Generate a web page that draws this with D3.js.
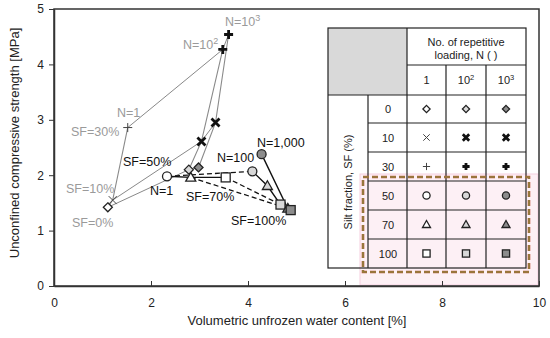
<!DOCTYPE html>
<html>
<head>
<meta charset="utf-8">
<script src="https://cdn.jsdelivr.net/npm/d3@7"></script>
<style>
  body { margin: 0; background: #fff; }
  text { font-family: "Liberation Sans", Arial, sans-serif; }
</style>
</head>
<body>
<script>
// silt fraction levels and loading counts
var sfLevels = [0, 10, 30, 50, 70, 100];
var nLevels = ["1", "10^2", "10^3"];

// volumetric unfrozen water content [%] and UCS [MPa], one entry per SF level
var wcN1    = [1.11, 1.21, 1.52, 2.33, 2.82, 3.54];
var ucsN1   = [1.42, 1.55, 2.86, 1.98, 1.96, 1.96];
var wcN100  = [2.78, 3.04, 3.48, 4.09, 4.40, 4.67];
var ucsN100 = [2.10, 2.61, 4.27, 2.07, 1.81, 1.47];
var wcN1000 = [2.98, 3.33, 3.60, 4.28, 4.82, 4.88];
var ucsN1000= [2.14, 2.95, 4.54, 2.38, 1.40, 1.37];

var xTicks = [0, 2, 4, 6, 8, 10];
var yTicks = [0, 1, 2, 3, 4, 5];

var W = 550, H = 338;
var svg = d3.select("body").append("svg").attr("width", W).attr("height", H);

var x = d3.scaleLinear().domain([0, 10]).range([54, 539]);
var y = d3.scaleLinear().domain([0, 5]).range([286, 9]);

var wc = [wcN1, wcN100, wcN1000];
var ucs = [ucsN1, ucsN100, ucsN1000];
function pt(n, s) { return [x(wc[n][s]), y(ucs[n][s])]; }

var line = d3.line();

// ---- pink highlight behind the table rows
svg.append("rect").attr("x", 360).attr("y", 174).attr("width", 178).attr("height", 111)
  .style("fill", "#fdf0f5").style("stroke", "#f6cfe0").style("stroke-width", 1);

// ---- frame
svg.append("rect").attr("x", 54).attr("y", 9).attr("width", 485).attr("height", 277)
  .style("fill", "none").style("stroke", "#333").style("stroke-width", 1.5);

// axes
var xAxis = svg.append("g").attr("transform", "translate(0,286)")
  .call(d3.axisBottom(x).tickValues(xTicks).tickFormat(d3.format("d")).tickSizeInner(-5).tickSizeOuter(0).tickPadding(10));
var yAxis = svg.append("g").attr("transform", "translate(54,0)")
  .call(d3.axisLeft(y).tickValues(yTicks).tickFormat(d3.format("d")).tickSizeInner(5).tickSizeOuter(0).tickPadding(5));
[xAxis, yAxis].forEach(function(a) {
  a.select(".domain").style("stroke", "#333").style("stroke-width", 1.5);
  a.selectAll(".tick line").style("stroke", "#333");
  a.selectAll("text").style("font-size", "12px").style("fill", "#222")
    .style("font-family", "Liberation Sans, Arial, sans-serif");
});
xAxis.selectAll(".tick text").attr("dy", "0.9em");

svg.append("text").attr("x", 297).attr("y", 325).attr("text-anchor", "middle")
  .style("font-size", "13px").style("fill", "#222").text("Volumetric unfrozen water content [%]");
svg.append("text").attr("transform", "translate(19,143) rotate(-90)").attr("text-anchor", "middle")
  .style("font-size", "13px").style("fill", "#222").text("Unconfined compressive strength [MPa]");

// ---- lines
// gray: constant N for SF 0,10,30
[0, 1, 2].forEach(function(n) {
  svg.append("path").attr("d", line([0, 1, 2].map(function(s) { return pt(n, s); })))
    .style("fill", "none").style("stroke", "#8a8a8a").style("stroke-width", 1.1);
});
// thin dark: constant SF for SF 0,10,30
[0, 1, 2].forEach(function(s) {
  svg.append("path").attr("d", line([0, 1, 2].map(function(n) { return pt(n, s); })))
    .style("fill", "none").style("stroke", "#555").style("stroke-width", 0.7);
});
// black solid: constant N for SF 50,70,100
[0, 1, 2].forEach(function(n) {
  svg.append("path").attr("d", line([3, 4, 5].map(function(s) { return pt(n, s); })))
    .style("fill", "none").style("stroke", "#111").style("stroke-width", 1.4);
});
// dashed: SF 50,70,100 across N
var dashed = [[3, [0, 1]], [4, [0, 2]], [5, [0, 1, 2]]];
dashed.forEach(function(d) {
  svg.append("path").attr("d", line(d[1].map(function(n) { return pt(n, d[0]); })))
    .style("fill", "none").style("stroke", "#111").style("stroke-width", 1.3)
    .style("stroke-dasharray", "5,3");
});

// ---- markers
var fills = ["#fff", "#d8d8d8", "#8c8c8c"];
function marker(g, s, n, cx, cy, k) {
  var f = fills[n];
  var r;
  if (s === 0) {
    r = 4.5 * k;
    g.append("path").attr("d", "M" + cx + "," + (cy - r) + "L" + (cx + r) + "," + cy + "L" + cx + "," + (cy + r) + "L" + (cx - r) + "," + cy + "Z")
      .style("fill", f).style("stroke", "#222").style("stroke-width", 1.3);
  } else if (s === 1) {
    r = 4 * k;
    g.append("path").attr("d", "M" + (cx - r) + "," + (cy - r) + "L" + (cx + r) + "," + (cy + r) + "M" + (cx + r) + "," + (cy - r) + "L" + (cx - r) + "," + (cy + r))
      .style("stroke", n === 0 ? "#444" : "#111").style("stroke-width", n === 0 ? 1 : 2.8);
  } else if (s === 2) {
    r = 4.5 * k;
    g.append("path").attr("d", "M" + (cx - r) + "," + cy + "L" + (cx + r) + "," + cy + "M" + cx + "," + (cy - r) + "L" + cx + "," + (cy + r))
      .style("stroke", n === 0 ? "#444" : "#111").style("stroke-width", n === 0 ? 1 : 2.8);
  } else if (s === 3) {
    g.append("circle").attr("cx", cx).attr("cy", cy).attr("r", 4.5 * k)
      .style("fill", f).style("stroke", "#222").style("stroke-width", 1.3);
  } else if (s === 4) {
    r = 5 * k;
    g.append("path").attr("d", "M" + cx + "," + (cy - r) + "L" + (cx + r) + "," + (cy + r * 0.75) + "L" + (cx - r) + "," + (cy + r * 0.75) + "Z")
      .style("fill", f).style("stroke", "#222").style("stroke-width", 1.3);
  } else {
    r = 4.5 * k;
    g.append("rect").attr("x", cx - r).attr("y", cy - r).attr("width", 2 * r).attr("height", 2 * r)
      .style("fill", f).style("stroke", "#222").style("stroke-width", 1.3);
  }
}
var mg = svg.append("g");
[0, 1, 2].forEach(function(n) {
  sfLevels.forEach(function(sf, s) {
    var p = pt(n, s);
    marker(mg, s, n, p[0], p[1], 1);
  });
});

// ---- annotation labels
function label(tx, ty, str, col) {
  var t = svg.append("text").attr("x", tx).attr("y", ty).style("font-size", "12.5px").attr("fill", col);
  var parts = str.split("^");
  t.append("tspan").text(parts[0]);
  if (parts[1]) t.append("tspan").attr("dy", -5).style("font-size", "9px").text(parts[1]);
  return t;
}
var gray = "#9a9a9a";
label(225, 26, "N=10^3", gray);
label(183, 49, "N=10^2", gray);
label(117, 117, "N=1", gray);
label(71, 136, "SF=30%", gray);
label(66, 193, "SF=10%", gray);
label(72, 227, "SF=0%", gray);
label(123, 166, "SF=50%", "#111");
label(150, 195, "N=1", "#111");
label(186, 201, "SF=70%", "#111");
label(217, 162, "N=100", "#111");
label(257, 147, "N=1,000", "#111");
label(231, 225, "SF=100%", "#111");

// ---- legend table
var tb = svg.append("g");
var colX = [328, 368, 407, 446, 486, 526];
var rowY = [28, 65, 95, 123, 152, 181, 210, 239, 268];
tb.append("rect").attr("x", 328).attr("y", 28).attr("width", 79).attr("height", 67).style("fill", "#d9d9d9");
tb.append("rect").attr("x", 407).attr("y", 28).attr("width", 119).attr("height", 67).style("fill", "#fff");
var ls = function(sel) { return sel.style("stroke", "#222").style("stroke-width", 1.2); };
ls(tb.append("rect").attr("x", 328).attr("y", 28).attr("width", 198).attr("height", 240).style("fill", "none"));
ls(tb.append("line").attr("x1", 407).attr("x2", 526).attr("y1", 65).attr("y2", 65));
ls(tb.append("line").attr("x1", 328).attr("x2", 526).attr("y1", 95).attr("y2", 95));
for (var i = 3; i < 8; i++) ls(tb.append("line").attr("x1", 368).attr("x2", 526).attr("y1", rowY[i]).attr("y2", rowY[i]));
ls(tb.append("line").attr("x1", 368).attr("x2", 368).attr("y1", 95).attr("y2", 268));
ls(tb.append("line").attr("x1", 407).attr("x2", 407).attr("y1", 28).attr("y2", 268));
ls(tb.append("line").attr("x1", 446).attr("x2", 446).attr("y1", 65).attr("y2", 268));
ls(tb.append("line").attr("x1", 486).attr("x2", 486).attr("y1", 65).attr("y2", 268));

function ttext(tx, ty, str) {
  var t = tb.append("text").attr("x", tx).attr("y", ty).attr("text-anchor", "middle")
    .style("font-size", "11px").attr("fill", "#222").style("fill", "#222");
  var parts = str.split("^");
  t.append("tspan").text(parts[0]);
  if (parts[1]) t.append("tspan").attr("dy", -4).style("font-size", "7.5px").text(parts[1]);
  return t;
}
ttext(466, 46, "No. of repetitive");
ttext(466, 59, "loading, N ( )");
nLevels.forEach(function(nl, j) { ttext((colX[j + 2] + colX[j + 3]) / 2, 84, nl); });
tb.append("text").attr("transform", "translate(352,182) rotate(-90)").attr("text-anchor", "middle")
  .style("font-size", "11px").style("fill", "#222").text("Silt fraction, SF (%)");
sfLevels.forEach(function(sf, s) {
  var cy = (rowY[s + 2] + rowY[s + 3]) / 2;
  ttext(388, cy + 4, String(sf));
  [0, 1, 2].forEach(function(n) {
    marker(tb, s, n, (colX[n + 2] + colX[n + 3]) / 2, cy, 0.8);
  });
});

// ---- dashed highlight box
svg.append("rect").attr("x", 363).attr("y", 177).attr("width", 166).attr("height", 95)
  .style("fill", "none").style("stroke", "#c0583e").style("stroke-width", 2.6)
  .style("stroke-dasharray", "6,3");
svg.append("rect").attr("x", 363).attr("y", 177).attr("width", 166).attr("height", 95)
  .style("fill", "none").style("stroke", "#8d7f3b").style("stroke-width", 1.6)
  .style("stroke-dasharray", "6,3");
</script>
</body>
</html>
